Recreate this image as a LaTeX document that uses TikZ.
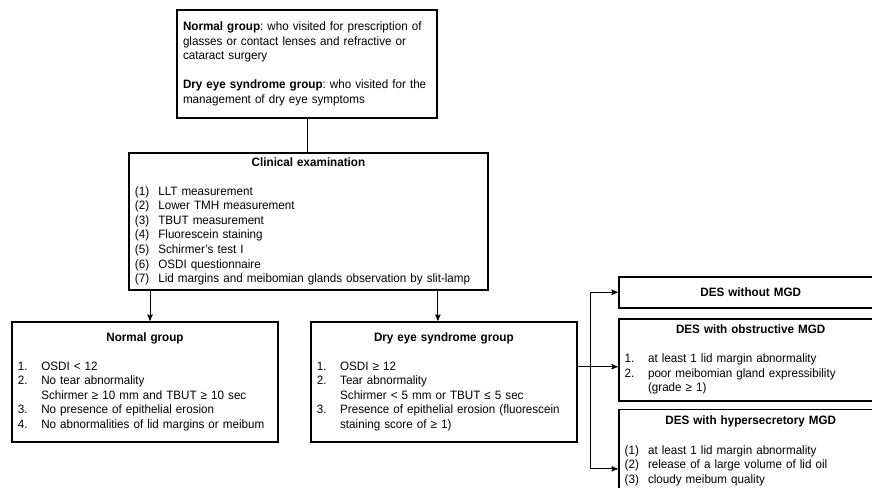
\documentclass[tikz,border=0pt]{standalone}
\usepackage{fontspec}
\setmainfont{Liberation Sans}[FakeStretch=0.96]
\usetikzlibrary{arrows, calc, positioning}

\newcommand{\bxnum}[1]{\makebox[17.5pt][l]{#1}}
\newcommand{\bxcont}{\hspace*{17.5pt}}
\newcommand{\bxtitle}[1]{\makebox[\hsize]{\textbf{#1}}}

\begin{document}
\frenchspacing
\begin{tikzpicture}[>=stealth', line width=0.75pt, every node/.style={font=\fontsize{9.1}{10.9}\selectfont},
    box/.style={draw, line width=1.4pt, align=left, inner xsep=4.5pt, inner ysep=2pt},
    sidebox/.style={box, text width=189pt}]

    \useasboundingbox (0,0) rectangle (654pt,-365.25pt);

    \node[box, anchor=north, text width=186pt, minimum height=81pt] (top) at (230.25pt,-6.75pt)
        {\textbf{Normal group}: who visited for prescription of\\
         glasses or contact lenses and refractive or\\
         cataract surgery\\[10.9pt]
         \textbf{Dry eye syndrome group}: who visited for the\\
         management of dry eye symptoms};
    \node[box, text width=260.25pt, minimum height=102.75pt] (clinical) [below=24.75pt of top, xshift=1.1pt]
        {\bxtitle{Clinical examination}\\[10.9pt]
         \bxnum{(1)}LLT measurement\\
         \bxnum{(2)}Lower TMH measurement\\
         \bxnum{(3)}TBUT measurement\\
         \bxnum{(4)}Fluorescein staining\\
         \bxnum{(5)}Schirmer’s test I\\
         \bxnum{(6)}OSDI questionnaire\\
         \bxnum{(7)}Lid margins and meibomian glands observation by slit-lamp};
    \node[box, text width=190.5pt, minimum height=90pt] (normal) [below=22.5pt of clinical.south west, anchor=north west, xshift=-87.75pt]
        {\bxtitle{Normal group}\\[10.9pt]
         \bxnum{1.}OSDI < 12\\
         \bxnum{2.}No tear abnormality\\
         \bxcont Schirmer ≥ 10 mm and TBUT ≥ 10 sec\\
         \bxnum{3.}No presence of epithelial erosion\\
         \bxnum{4.}No abnormalities of lid margins or meibum};
    \node[box, text width=190.5pt, minimum height=90pt] (des) [right=23.25pt of normal]
        {\bxtitle{Dry eye syndrome group}\\[10.9pt]
         \bxnum{1.}OSDI ≥ 12\\
         \bxnum{2.}Tear abnormality\\
         \bxcont Schirmer < 5 mm or TBUT ≤ 5 sec\\
         \bxnum{3.}Presence of epithelial erosion (fluorescein\\
         \bxcont staining score of ≥ 1)};
    \node[sidebox, align=center, minimum height=23.25pt] (r1) [above right=9pt and 30pt of des.north east]
        {\textbf{DES without MGD}};
    \node[sidebox, minimum height=61.5pt] (r2) [below=6.75pt of r1]
        {\bxtitle{DES with obstructive MGD}\\[10.9pt]
         \bxnum{1.}at least 1 lid margin abnormality\\
         \bxnum{2.}poor meibomian gland expressibility\\
         \bxcont (grade ≥ 1)};
    \node[sidebox, minimum height=62pt] (r3) [below=5.25pt of r2]
        {\bxtitle{DES with hypersecretory MGD}\\[10.9pt]
         \bxnum{(1)}at least 1 lid margin abnormality\\
         \bxnum{(2)}release of a large volume of lid oil\\
         \bxnum{(3)}cloudy meibum quality};

    \coordinate (c1) at ($(clinical.south west)+(16.5pt,0)$);
    \coordinate (c2) at ($(clinical.south east)+(-38.25pt,0)$);
    \coordinate (fork) at ($(des.north east)+(9.75pt,-34.5pt)$);
    \coordinate (r3in) at ($(r3.west)+(0,-13.5pt)$);

    \draw (top.south) -- (top.south |- clinical.north);
    \draw[->] (c1) -- (c1 |- normal.north);
    \draw[->] (c2) -- (c2 |- des.north);
    \draw (des.east |- fork) -- (fork);
    \draw[->] (fork) -- (fork -| r2.west);
    \draw[->] (fork) |- (r1.west);
    \draw[->] (fork) |- (r3in);
\end{tikzpicture}
\end{document}
